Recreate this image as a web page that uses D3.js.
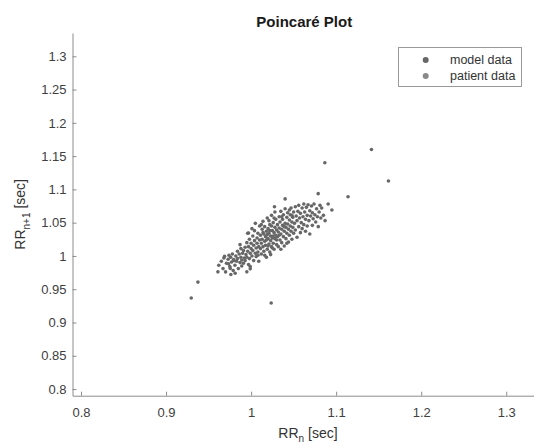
<!DOCTYPE html>
<html>
<head>
<meta charset="utf-8">
<script src="https://cdn.jsdelivr.net/npm/d3@7"></script>
<style>
  body { margin: 0; background: #fff; }
  svg { font-family: "Liberation Sans", Arial, sans-serif; }
</style>
</head>
<body>
<div id="chart"></div>
<script>
var chartTitle = 'Poincaré Plot';
var xTicks = [0.8, 0.9, 1, 1.1, 1.2, 1.3];
var yTicks = [0.8, 0.85, 0.9, 0.95, 1, 1.05, 1.1, 1.15, 1.2, 1.25, 1.3];
var seriesNames = ['model data', 'patient data'];
var seriesColors = ['#676767', '#8a8a8a'];

// [RR_n, RR_n+1]
var modelPoints = [
    // lower-left part of the cloud
    [0.962,0.986],[0.965,0.992],[0.967,0.981],[0.968,0.997],[0.971,0.989],[0.970,0.976],[0.973,0.995],
    [0.974,1.001],[0.975,0.984],[0.977,0.991],[0.976,0.998],[0.979,0.978],[0.978,1.003],[0.980,0.993],
    [0.981,0.986],[0.982,1.000],[0.983,0.992],[0.984,1.007],[0.985,0.981],[0.984,0.996],[0.986,1.003],
    [0.987,0.990],[0.988,1.011],[0.988,0.998],[0.989,0.985],[0.990,1.004],[0.987,1.017],[0.989,0.994],
    // 0.99 - 1.01
    [0.991,1.008],[0.992,0.997],[0.991,0.989],[0.993,1.013],[0.994,1.002],[0.993,0.993],[0.995,1.020],
    [0.996,1.007],[0.995,0.998],[0.997,1.014],[0.997,0.987],[0.998,1.025],[0.999,1.004],[0.998,0.996],
    [1.000,1.011],[1.000,1.019],[1.001,1.000],[1.002,1.030],[1.002,1.008],[1.003,0.993],[1.003,1.016],
    [1.004,1.023],[1.005,1.004],[1.004,1.038],[1.006,1.012],[1.006,0.999],[1.007,1.027],[1.007,1.019],
    [1.008,1.006],[1.008,1.034],[1.009,1.014],[1.009,0.992],[1.010,1.024],[1.010,1.045],[0.996,1.034],
    [1.001,1.041],[1.005,1.049],[0.999,0.984],[1.008,1.001],
    // core
    [1.011,1.011],[1.011,1.031],[1.012,1.019],[1.012,1.003],[1.013,1.040],[1.013,1.025],[1.014,1.014],
    [1.014,1.052],[1.015,1.033],[1.015,1.007],[1.016,1.022],[1.016,1.044],[1.017,1.016],[1.017,1.029],
    [1.018,0.998],[1.018,1.037],[1.019,1.010],[1.019,1.057],[1.020,1.026],[1.020,1.041],[1.021,1.018],
    [1.021,1.034],[1.022,1.006],[1.022,1.047],[1.023,1.023],[1.023,1.030],[1.024,1.014],[1.024,1.061],
    [1.025,1.038],[1.025,1.027],[1.026,1.019],[1.026,1.050],[1.027,1.035],[1.027,1.010],[1.028,1.043],
    [1.028,1.026],[1.029,1.031],[1.029,1.055],[1.030,1.017],[1.030,1.039],[1.012,1.047],[1.016,1.001],
    [1.019,1.032],[1.021,1.053],[1.023,1.002],[1.024,1.045],[1.026,1.030],[1.028,1.066],[1.030,1.024],
    [1.022,1.038],[1.018,1.024],[1.014,1.035],[1.027,1.057],[1.025,1.012],[1.020,1.015],
    // 1.03 - 1.05
    [1.031,1.047],[1.031,1.029],[1.032,1.036],[1.032,1.014],[1.033,1.059],[1.033,1.042],[1.034,1.024],
    [1.034,1.051],[1.035,1.033],[1.035,1.067],[1.036,1.040],[1.036,1.020],[1.037,1.055],[1.037,1.046],
    [1.038,1.029],[1.038,1.062],[1.039,1.037],[1.039,1.015],[1.040,1.049],[1.040,1.071],[1.041,1.043],
    [1.041,1.026],[1.042,1.058],[1.042,1.034],[1.043,1.065],[1.043,1.048],[1.044,1.021],[1.044,1.040],
    [1.045,1.054],[1.045,1.031],[1.046,1.062],[1.046,1.045],[1.047,1.072],[1.047,1.037],[1.048,1.051],
    [1.048,1.025],[1.049,1.058],[1.049,1.043],[1.050,1.066],[1.050,1.034],[1.033,1.031],[1.036,1.059],
    [1.039,1.044],[1.042,1.019],[1.045,1.069],[1.048,1.061],[1.035,1.010],
    // upper-right part
    [1.051,1.049],[1.052,1.074],[1.052,1.039],[1.053,1.060],[1.054,1.028],[1.054,1.053],[1.055,1.067],
    [1.056,1.044],[1.056,1.076],[1.057,1.057],[1.058,1.035],[1.058,1.064],[1.059,1.050],[1.060,1.072],
    [1.060,1.041],[1.061,1.059],[1.062,1.078],[1.062,1.047],[1.063,1.066],[1.064,1.037],[1.064,1.055],
    [1.065,1.073],[1.066,1.061],[1.066,1.045],[1.067,1.077],[1.068,1.053],[1.069,1.068],[1.069,1.033],
    [1.070,1.060],[1.071,1.075],[1.072,1.046],[1.072,1.065],[1.073,1.056],[1.074,1.078],[1.075,1.062],
    [1.076,1.051],[1.077,1.071],[1.078,1.059],[1.079,1.044],[1.080,1.066],[1.082,1.057],[1.083,1.072],
    [1.085,1.061],[1.087,1.053],[1.081,1.076]
];

var patientPoints = [
    [0.9296,0.9368],[0.9375,0.9607],[1.0236,0.9293],[0.9610,0.9761],[0.9688,0.9996],
    [0.9762,0.9722],[0.9813,0.9741],[0.9735,0.9881],[0.9794,0.9946],[0.9755,0.9811],
    [0.9950,0.9761],[0.9990,0.9806],[0.9970,1.0344],
    [1.1415,1.160],[1.0867,1.140],[1.1615,1.1126],[1.114,1.089],[1.0789,1.0936],
    [1.040,1.0857],[1.0906,1.078],[1.095,1.069],[1.0275,1.074]
];

var width = 534, height = 444;
var plot = { left: 72.5, right: 536, top: 33, bottom: 395.7 };

var svg = d3.select('#chart').append('svg')
    .attr('width', width)
    .attr('height', height);

var x = d3.scaleLinear().domain([0.79, 1.335]).range([plot.left, plot.right]);
var y = d3.scaleLinear().domain([0.79, 1.335]).range([plot.bottom, plot.top]);

var fmt = function (d) { return String(+d.toFixed(2)); };

// axes, MATLAB style ticks pointing inwards
var xAxis = svg.append('g')
    .attr('transform', 'translate(0,' + plot.bottom + ')')
    .call(d3.axisBottom(x).tickValues(xTicks).tickFormat(fmt)
        .tickSizeInner(-4).tickSizeOuter(0).tickPadding(12));

var yAxis = svg.append('g')
    .attr('transform', 'translate(' + plot.left + ',0)')
    .call(d3.axisLeft(y).tickValues(yTicks).tickFormat(fmt)
        .tickSizeInner(-4).tickSizeOuter(0).tickPadding(6));

[xAxis, yAxis].forEach(function (g) {
    g.select('.domain').attr('stroke', '#8c8c8c');
    g.selectAll('.tick line').attr('stroke', '#8c8c8c');
    g.selectAll('.tick text')
        .attr('fill', '#404040')
        .style('font-size', '13px')
        .style('font-family', '"Liberation Sans", Arial, sans-serif');
});

// points
function drawSeries(data, color) {
    svg.append('g').selectAll('circle')
        .data(data)
        .enter().append('circle')
        .attr('cx', function (d) { return x(d[0]); })
        .attr('cy', function (d) { return y(d[1]); })
        .attr('r', 1.8)
        .attr('fill', color);
}
drawSeries(modelPoints, seriesColors[0]);
drawSeries(patientPoints, seriesColors[0]);

// title
svg.append('text')
    .attr('x', (plot.left + plot.right) / 2)
    .attr('y', 27)
    .attr('text-anchor', 'middle')
    .style('font-size', '15px')
    .style('font-weight', 'bold')
    .attr('fill', '#1a1a1a')
    .text(chartTitle);

// axis labels
var xl = svg.append('text')
    .attr('x', 308)
    .attr('y', 438)
    .attr('text-anchor', 'middle')
    .style('font-size', '14px')
    .attr('fill', '#333');
xl.append('tspan').text('RR');
xl.append('tspan').attr('dy', 4).style('font-size', '10px').text('n');
xl.append('tspan').attr('dy', -4).text(' [sec]');

var yl = svg.append('text')
    .attr('transform', 'translate(25,' + ((plot.top + plot.bottom) / 2) + ') rotate(-90)')
    .attr('text-anchor', 'middle')
    .style('font-size', '14px')
    .attr('fill', '#333');
yl.append('tspan').text('RR');
yl.append('tspan').attr('dy', 5).style('font-size', '10px').text('n+1');
yl.append('tspan').attr('dy', -5).text(' [sec]');

// legend
var legend = svg.append('g');
legend.append('rect')
    .attr('x', 398.5).attr('y', 47.5)
    .attr('width', 123).attr('height', 39)
    .attr('fill', '#fff')
    .attr('stroke', '#9a9a9a');

var rows = legend.selectAll('.row')
    .data(seriesNames)
    .enter().append('g')
    .attr('class', 'row')
    .attr('transform', function (d, i) { return 'translate(0,' + (60 + i * 16) + ')'; });

rows.append('circle')
    .attr('cx', 425.7)
    .attr('r', 3)
    .attr('fill', function (d, i) { return seriesColors[i]; });

rows.append('text')
    .attr('x', 450)
    .attr('dy', '0.35em')
    .style('font-size', '12.5px')
    .attr('fill', '#333')
    .text(function (d) { return d; });
</script>
</body>
</html>
